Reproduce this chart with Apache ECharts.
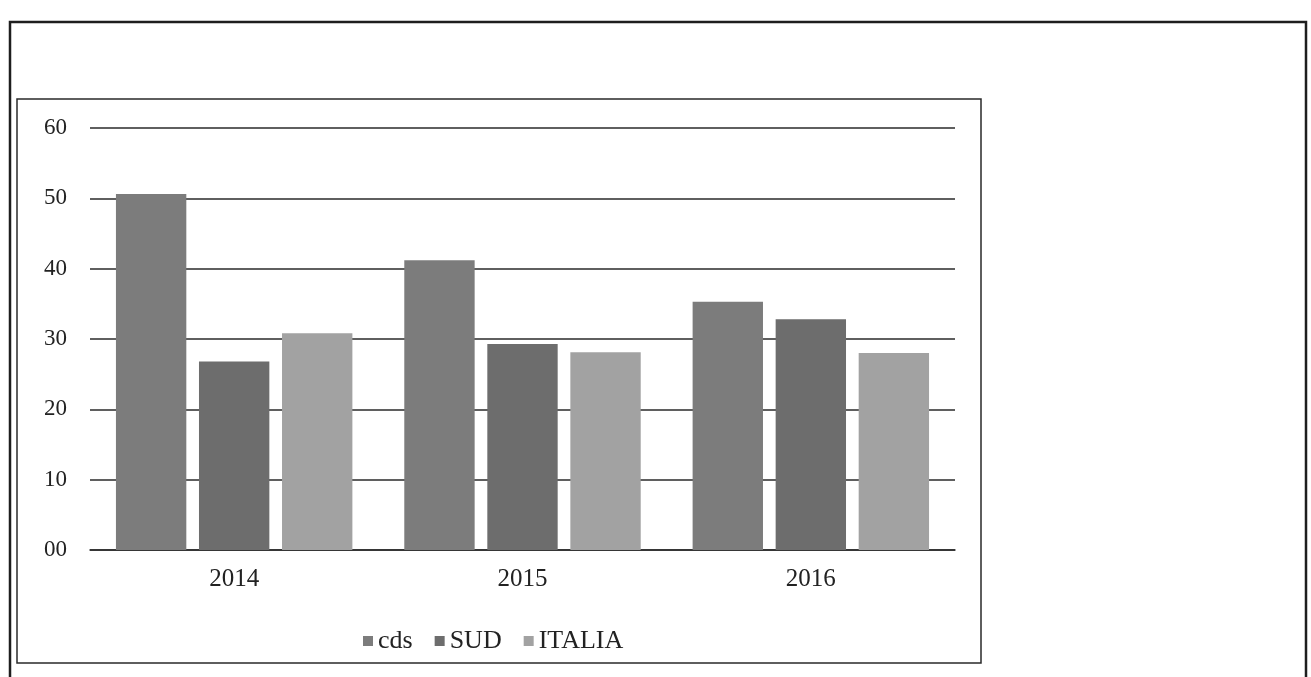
<!DOCTYPE html>
<html>
<head>
<meta charset="utf-8">
<title>cds / SUD / ITALIA 2014-2016</title>
<script src="https://cdn.jsdelivr.net/npm/echarts@6/dist/echarts.min.js"></script>
<style>
  html, body { margin: 0; padding: 0; background: #ffffff; }
  #chart { width: 1311px; height: 677px; }
</style>
</head>
<body>
<div id="chart"></div>
<script>
// Years on the category axis
const years = ['2014', '2015', '2016'];

// Values per series, one entry per year
const cdsValues = [50.6, 41.2, 35.3];
const sudValues = [26.8, 29.3, 32.8];
const italiaValues = [30.8, 28.1, 28.0];

// Value axis tick labels (two-digit style, as printed)
const yTickLabels = ['00', '10', '20', '30', '40', '50', '60'];

const seriesNames = ['cds', 'SUD', 'ITALIA'];
const seriesColors = ['#7c7c7c', '#6d6d6d', '#a2a2a2'];
const seriesData = [cdsValues, sudValues, italiaValues];

const serif = '"Liberation Serif", "DejaVu Serif", serif';

const chart = echarts.init(document.getElementById('chart'), null, { renderer: 'canvas' });

chart.setOption({
  backgroundColor: '#ffffff',
  animation: false,
  grid: { left: 90, right: 356, top: 128, bottom: 127 },
  legend: {
    data: seriesNames,
    left: 358,
    top: 623,
    icon: 'rect',
    itemWidth: 10,
    itemHeight: 10,
    itemGap: 22,
    textStyle: { fontFamily: serif, fontSize: 26, color: '#222' }
  },
  xAxis: {
    type: 'category',
    data: years,
    axisLine: { show: true, lineStyle: { color: '#2a2a2a', width: 1.5 } },
    axisTick: { show: false },
    axisLabel: { margin: 17, fontFamily: serif, fontSize: 25, color: '#222' }
  },
  yAxis: {
    type: 'value',
    min: 0,
    max: 60,
    interval: 10,
    axisLine: { show: false },
    axisTick: { show: false },
    splitLine: { show: true, lineStyle: { color: '#2a2a2a', width: 1.5 } },
    axisLabel: {
      margin: 23,
      fontFamily: serif,
      fontSize: 23,
      color: '#222',
      formatter: function (v) { return yTickLabels[Math.round(v / 10)]; }
    }
  },
  series: seriesNames.map(function (name, i) {
    return {
      name: name,
      type: 'bar',
      data: seriesData[i],
      barGap: '18%',
      barCategoryGap: '18%',
      itemStyle: { color: seriesColors[i] }
    };
  }),
  graphic: [
    // outer page frame
    {
      type: 'rect',
      shape: { x: 10, y: 22, width: 1296, height: 700 },
      style: { fill: 'none', stroke: '#1e1e1e', lineWidth: 2.5 },
      silent: true
    },
    // chart frame
    {
      type: 'rect',
      shape: { x: 17, y: 99, width: 964, height: 564 },
      style: { fill: 'none', stroke: '#2a2a2a', lineWidth: 1.5 },
      silent: true
    }
  ]
});
</script>
</body>
</html>
